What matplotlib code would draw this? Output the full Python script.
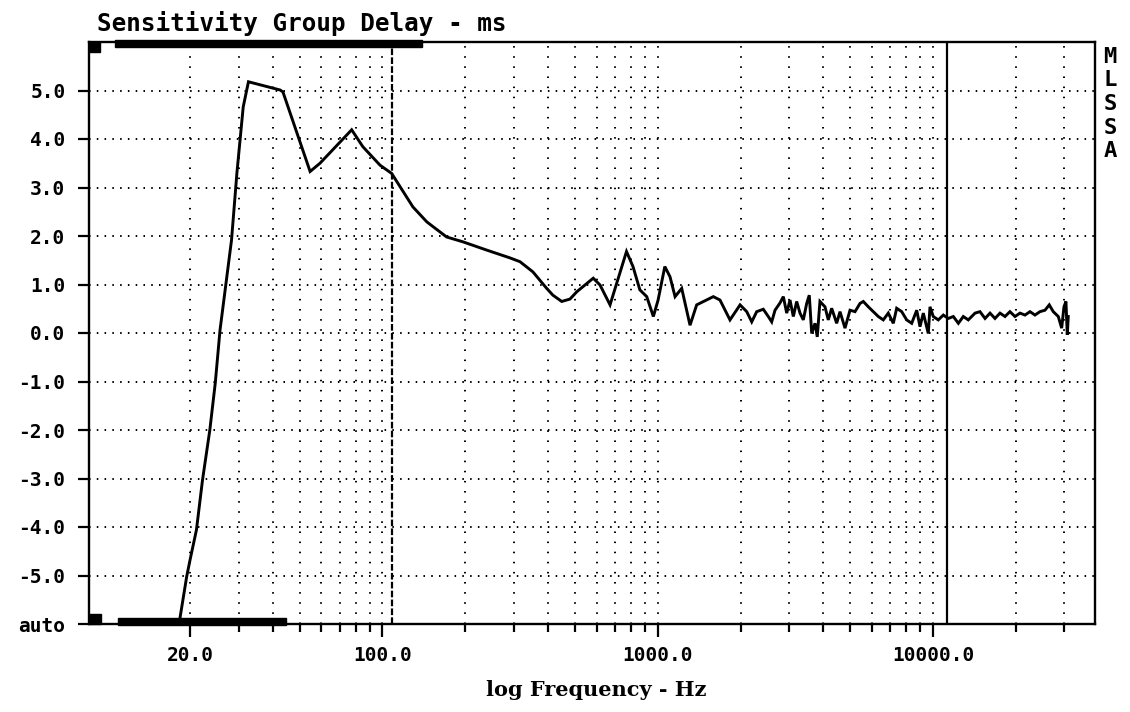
import matplotlib
matplotlib.use("Agg")
import matplotlib.pyplot as plt
from matplotlib.ticker import FixedLocator, FixedFormatter, NullFormatter
from matplotlib.patches import Rectangle

# ---------------- data ----------------
freq_hz = [18.0, 19.45, 20.0, 21.1, 22.2, 23.6, 24.7, 25.7, 28.3, 29.6, 31.2, 32.6,
           42.5, 43.5, 54.6, 59.3, 77.3, 84.9, 98, 108, 129, 145, 171, 196, 239,
           290, 316, 352, 395, 416, 448, 480, 508, 583, 617, 671, 710, 770, 813,
           861, 912, 964, 1003, 1061, 1108, 1156, 1222, 1310, 1385, 1592, 1683,
           1830, 1991,
           2105, 2195, 2288, 2418, 2521, 2594, 2667, 2781, 2859, 2941, 3023, 3108,
           3197, 3287, 3379, 3476, 3552, 3625, 3727, 3797, 3884, 4050, 4164, 4284,
           4467, 4593, 4789, 4994, 5208, 5429, 5581, 5820, 6067, 6327, 6597, 6878,
           7173, 7379, 7695, 8023, 8366, 8724, 8968, 9219, 9612, 9750, 10020,
           10450, 10900, 11360, 11850, 12360, 12880, 13430, 14210, 14810, 15450,
           16110, 16790, 17510, 18260, 19030, 19850, 20700, 21580, 22500, 23460,
           24460, 25510, 26440, 27340, 28510, 29330, 29900, 30400, 30740, 30990]
delay_ms = [-6.2, -5.02, -4.68, -4.06, -3.03, -2.0, -1.03, 0.06, 1.92, 3.30, 4.66, 5.18,
            5.01, 4.97, 3.33, 3.50, 4.19, 3.84, 3.46, 3.29, 2.60, 2.29, 1.98, 1.88, 1.71,
            1.55, 1.47, 1.26, 0.92, 0.78, 0.65, 0.70, 0.85, 1.13, 0.99, 0.58, 1.03, 1.68, 1.37,
            0.89, 0.75, 0.34, 0.68, 1.37, 1.16, 0.75, 0.92, 0.16, 0.58, 0.75, 0.68,
            0.27, 0.58,
            0.44, 0.23, 0.44, 0.49, 0.34, 0.23, 0.47, 0.62, 0.75, 0.41, 0.68, 0.34,
            0.65, 0.41, 0.27, 0.61, 0.78, -0.01, 0.20, -0.08, 0.65, 0.54, 0.27, 0.51,
            0.20, 0.44, 0.10, 0.47, 0.44, 0.61, 0.65, 0.54, 0.44, 0.34, 0.27, 0.41,
            0.20, 0.51, 0.44, 0.27, 0.20, 0.47, 0.13, 0.41, -0.01, 0.54, 0.34,
            0.27, 0.37, 0.30, 0.34, 0.20, 0.34, 0.27, 0.41, 0.44, 0.30,
            0.41, 0.30, 0.41, 0.34, 0.44, 0.34, 0.41, 0.37, 0.44, 0.37,
            0.44, 0.47, 0.58, 0.44, 0.34, 0.10, 0.54, 0.65, -0.04, 0.34]

x_major_ticks = [20, 100, 1000, 10000]
x_major_labels = ["20.0", "100.0", "1000.0", "10000.0"]
x_minor_ticks = [30, 40, 50, 60, 70, 80, 90,
                 200, 300, 400, 500, 600, 700, 800, 900,
                 2000, 3000, 4000, 5000, 6000, 7000, 8000, 9000,
                 20000, 30000]
y_ticks = [-6, -5, -4, -3, -2, -1, 0, 1, 2, 3, 4, 5]
y_labels = ["auto", "-5.0", "-4.0", "-3.0", "-2.0", "-1.0", "0.0", "1.0", "2.0", "3.0", "4.0", "5.0"]
cursor_dashed_hz = 108
cursor_solid_hz = 11240
side_letters = ["M", "L", "S", "S", "A"]

# ---------------- figure ----------------
mono = "DejaVu Sans Mono"
fig = plt.figure(figsize=(11.3, 7.12), dpi=100)
ax = fig.add_axes([89/1130, 88/712, 1006/1130, 582/712])
ax.set_xscale("log")
ax.set_xlim(8.59, 38760)
ax.set_ylim(-6, 6)

ax.xaxis.set_major_locator(FixedLocator(x_major_ticks))
ax.xaxis.set_major_formatter(FixedFormatter(x_major_labels))
ax.xaxis.set_minor_locator(FixedLocator(x_minor_ticks))
ax.xaxis.set_minor_formatter(NullFormatter())
ax.yaxis.set_major_locator(FixedLocator(y_ticks))
ax.yaxis.set_major_formatter(FixedFormatter(y_labels))
ax.yaxis.set_minor_locator(FixedLocator([]))

ax.tick_params(axis="x", which="major", direction="out", length=9, width=1.6, pad=7,
               labelsize=14, color="black")
ax.tick_params(axis="x", which="minor", direction="out", length=6, width=1.6, color="black")
ax.tick_params(axis="y", which="major", direction="out", length=8, width=1.6, pad=9,
               labelsize=14, color="black")
for lab in ax.get_xticklabels() + ax.get_yticklabels():
    lab.set_fontfamily(mono)
    lab.set_fontweight("bold")

for s in ax.spines.values():
    s.set_linewidth(1.7)
    s.set_color("black")

ax.set_axisbelow(True)
ax.xaxis.grid(True, which="both", color="black", linewidth=1.4, linestyle=(0, (0.8, 4.4)))
ax.yaxis.grid(True, which="major", color="black", linewidth=1.4, linestyle=(0, (0.8, 3.2)))

# cursors
ax.axvline(cursor_dashed_hz, color="black", linewidth=1.6, linestyle=(0, (3, 1)), zorder=2)
ax.axvline(cursor_solid_hz, color="black", linewidth=1.6, zorder=2)

# curve
ax.plot(freq_hz, delay_ms, color="black", linewidth=2.1, zorder=3, clip_on=True,
        solid_joinstyle="miter")

# decorative scroll bars
tr = ax.transAxes
ax.add_patch(Rectangle((0.0, 0.982), 0.011, 0.018, transform=tr, color="black", clip_on=False, zorder=5))
ax.add_patch(Rectangle((0.026, 0.992), 0.305, 0.011, transform=tr, color="black", clip_on=False, zorder=5))
ax.add_patch(Rectangle((0.0, 0.0), 0.012, 0.017, transform=tr, color="black", clip_on=False, zorder=5))
ax.add_patch(Rectangle((0.029, -0.002), 0.167, 0.013, transform=tr, color="black", clip_on=False, zorder=5))

# texts
fig.text(97/1130, 1 - 31/712, "Sensitivity Group Delay - ms", fontfamily=mono,
         fontweight="bold", fontsize=17.5, ha="left", va="baseline")
fig.text(596/1130, 1 - 690/712, "log Frequency - Hz", fontfamily="DejaVu Serif",
         fontweight="bold", fontsize=15, ha="center", va="center")
for i, ch in enumerate(side_letters):
    fig.text(1110/1130, 1 - (57 + 23.5 * i)/712, ch, fontfamily=mono, fontweight="bold",
             fontsize=16, ha="center", va="center")

fig.savefig("out.png", dpi=100, facecolor="white")
